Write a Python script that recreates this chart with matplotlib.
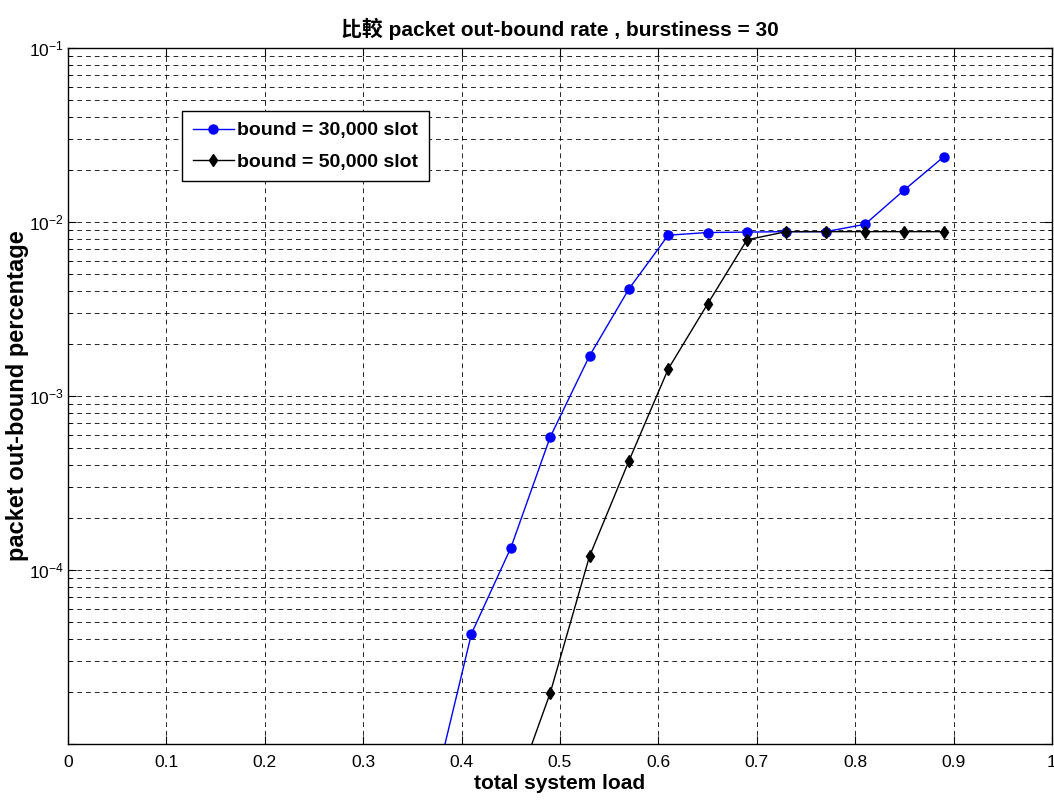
import matplotlib
matplotlib.use("Agg")
import matplotlib.pyplot as plt
from matplotlib.ticker import LogLocator, FixedLocator, NullFormatter, FixedFormatter

plt.rcParams['font.family'] = ['Liberation Sans', 'Noto Sans CJK TC', 'DejaVu Sans']
plt.rcParams['mathtext.fontset'] = 'custom'
plt.rcParams['mathtext.rm'] = 'Liberation Sans'
plt.rcParams['mathtext.it'] = 'Liberation Sans'

load_30k = [0.37, 0.41, 0.45, 0.49, 0.53, 0.57, 0.61, 0.65, 0.69, 0.73, 0.77, 0.81, 0.85, 0.89]
rate_30k = [4.9e-6, 4.3e-5, 1.34e-4, 5.8e-4, 1.70e-3, 4.12e-3, 8.4e-3, 8.7e-3, 8.75e-3, 8.8e-3, 8.8e-3, 9.7e-3, 1.53e-2, 2.37e-2]
load_50k = [0.45, 0.49, 0.53, 0.57, 0.61, 0.65, 0.69, 0.73, 0.77, 0.81, 0.85, 0.89]
rate_50k = [4.6e-6, 1.96e-5, 1.2e-4, 4.23e-4, 1.43e-3, 3.38e-3, 7.9e-3, 8.8e-3, 8.8e-3, 8.8e-3, 8.8e-3, 8.8e-3]
x_ticks = [0, 0.1, 0.2, 0.3, 0.4, 0.5, 0.6, 0.7, 0.8, 0.9, 1]
x_labels = ['0', '0.1', '0.2', '0.3', '0.4', '0.5', '0.6', '0.7', '0.8', '0.9', '1']
y_ticks = [1e-5, 1e-4, 1e-3, 1e-2, 1e-1]
y_labels = ['', r'$10^{-4}$', r'$10^{-3}$', r'$10^{-2}$', r'$10^{-1}$']
label_30k = 'bound = 30,000 slot'
label_50k = 'bound = 50,000 slot'

fig = plt.figure(figsize=(10.54, 8.06), dpi=100)
ax = fig.add_axes([68/1054, 1-744/806, (1052-68)/1054, (744-48)/806])

ax.plot(load_30k, rate_30k, '-o', color='blue', lw=1.0, ms=6.5, mfc='blue', mec='blue', label=label_30k)
ax.plot(load_50k, rate_50k, '-d', color='black', lw=1.0, ms=6, mfc='black', mec='black', label=label_50k)

ax.set_yscale('log')
ax.set_xlim(0, 1)
ax.set_ylim(1e-5, 1e-1)
ax.xaxis.set_major_locator(FixedLocator(x_ticks))
ax.xaxis.set_major_formatter(FixedFormatter(x_labels))
ax.yaxis.set_major_locator(FixedLocator(y_ticks))
ax.yaxis.set_major_formatter(FixedFormatter(y_labels))
ax.yaxis.set_minor_locator(LogLocator(base=10, subs=range(2, 10)))
ax.yaxis.set_minor_formatter(NullFormatter())

ax.grid(True, which='major', axis='x', ls=(0, (5, 4)), color='black', lw=0.7, alpha=0.85)
ax.grid(True, which='both', axis='y', ls=(0, (5, 4)), color='black', lw=0.7, alpha=0.85)

ax.tick_params(which='both', direction='in', top=True, right=True, labelsize=12.5)
ax.tick_params(which='major', length=6)
ax.tick_params(which='minor', length=3)
ax.tick_params(axis='x', pad=8)
ax.tick_params(axis='y', pad=3)
for s in ax.spines.values():
    s.set_linewidth(1.0)

ax.set_title('比較 packet out-bound rate , burstiness = 30', fontsize=15, fontweight='bold', pad=9)
ax.set_xlabel('total system load', fontsize=15, fontweight='bold', labelpad=3)
ax.set_ylabel('packet out-bound percentage', fontsize=17, fontweight='bold', labelpad=0)

leg = ax.legend(loc='upper left', bbox_to_anchor=((182-68)/984, (744-111)/696),
                prop={'weight': 'bold', 'size': 14}, frameon=True, fancybox=False,
                edgecolor='black', framealpha=1, borderpad=0.55, handlelength=2.1,
                handletextpad=0.2, labelspacing=0.7, borderaxespad=0)
leg.get_frame().set_linewidth(1.0)

fig.savefig('out.png', dpi=100)
